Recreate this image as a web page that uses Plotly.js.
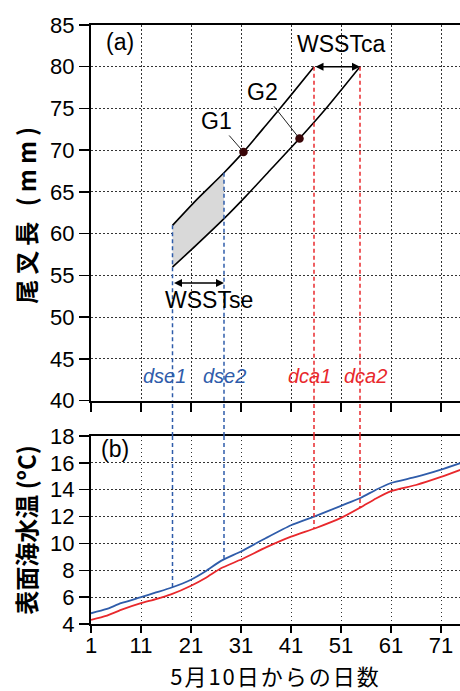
<!DOCTYPE html>
<html>
<head>
<meta charset="utf-8">
<script src="https://cdn.plot.ly/plotly-3.0.1.min.js"></script>
<style>
html,body{margin:0;padding:0;background:#fff;}
#chart{width:460px;height:691px;}
text.ytitle{letter-spacing:5px;}
text.x2title{letter-spacing:2px;}
</style>
</head>
<body>
<div id="chart"></div>
<script>
// ---- data ----
const xTicks = [1, 11, 21, 31, 41, 51, 61, 71];
const lenTicks = [40, 45, 50, 55, 60, 65, 70, 75, 80, 85];
const sstTicks = [4, 6, 8, 10, 12, 14, 16, 18];

// growth curves (fork length, mm)
const g1Days = [17.3, 22, 27.6, 31.5, 36, 41, 45.6];
const g1Len  = [61.0, 64.0, 67.3, 69.8, 73.0, 76.6, 80.0];
const g2Days = [17.3, 22, 27.6, 32, 36.8, 42.7, 48, 54.8];
const g2Len  = [56.0, 58.6, 61.8, 64.5, 67.6, 71.4, 75.0, 80.0];

// marked points G1, G2
const gNames = ['G1', 'G2'];
const gDays = [31.5, 42.7];
const gLen  = [69.8, 71.4];
const gLabelDays = [26.1, 35.3];
const gLabelLen  = [73.5, 77.0];

// sea surface temperature (deg C)
const sstDays = [1, 4, 7, 11, 14, 17, 21, 24, 27, 31, 36, 41, 46, 51, 55, 58, 61, 66, 71, 75];
const sstBlue = [4.8, 5.1, 5.55, 6.0, 6.35, 6.7, 7.3, 7.95, 8.7, 9.4, 10.4, 11.35, 12.05, 12.8, 13.4, 14.0, 14.5, 14.95, 15.5, 16.0];
const sstRed  = [4.3, 4.6, 5.05, 5.55, 5.85, 6.2, 6.85, 7.45, 8.15, 8.8, 9.7, 10.5, 11.15, 11.9, 12.7, 13.35, 13.9, 14.35, 14.95, 15.5];

// reference days
const dseNames = ['dse1', 'dse2'];
const dseDays = [17.3, 27.6];
const dseTop  = [61.0, 67.3];
const dseSST  = [6.7, 8.85];
const dseLabelDays = [15.6, 27.6];
const dcaNames = ['dca1', 'dca2'];
const dcaDays = [45.6, 54.8];
const dcaTop  = [80.0, 80.0];
const dcaSST  = [11.1, 12.7];
const dcaLabelDays = [44.6, 55.8];
const dLabelLen = 42.9;

const wsstSeLen = 54.1;
const wsstSeLabel = {day: 24.6, len: 52.1, text: 'WSSTse'};
const wsstCaLen = 80.0;
const wsstCaLabel = {day: 51.0, len: 82.7, text: 'WSSTca'};

// ---- styling ----
const BLUE = '#2f5caa';
const RED = '#e8282c';
const FONT = 'Liberation Sans, Arial, Noto Sans CJK JP, sans-serif';
const CJK = 'Noto Sans CJK JP, Liberation Sans, sans-serif';

const topDom = [0.3728, 1];
const botDom = [0, 0.3139];

// shaded band between curves from dse1 to dse2
const nUp = g1Days.filter(d => d <= dseDays[1]).length;
const nLo = g2Days.filter(d => d <= dseDays[1]).length;
const bandX = g1Days.slice(0, nUp).concat(g2Days.slice(0, nLo).reverse());
const bandY = g1Len.slice(0, nUp).concat(g2Len.slice(0, nLo).reverse());

const traces = [
  {x: bandX, y: bandY, xaxis: 'x', yaxis: 'y', type: 'scatter', mode: 'none',
   fill: 'toself', fillcolor: '#d9d9d9', hoverinfo: 'skip', showlegend: false},
  {x: g1Days, y: g1Len, xaxis: 'x', yaxis: 'y', type: 'scatter', mode: 'lines',
   line: {color: '#000', width: 1.6, shape: 'spline', smoothing: 0.6}, showlegend: false},
  {x: g2Days, y: g2Len, xaxis: 'x', yaxis: 'y', type: 'scatter', mode: 'lines',
   line: {color: '#000', width: 1.6, shape: 'spline', smoothing: 0.6}, showlegend: false},
  {x: gDays, y: gLen, xaxis: 'x', yaxis: 'y', type: 'scatter', mode: 'markers',
   marker: {color: '#3a0608', size: 8.5}, showlegend: false},
  {x: sstDays, y: sstBlue, xaxis: 'x2', yaxis: 'y2', type: 'scatter', mode: 'lines',
   line: {color: BLUE, width: 1.8, shape: 'spline', smoothing: 0.5}, showlegend: false},
  {x: sstDays, y: sstRed, xaxis: 'x2', yaxis: 'y2', type: 'scatter', mode: 'lines',
   line: {color: RED, width: 1.8, shape: 'spline', smoothing: 0.5}, showlegend: false}
];

const shapes = [];
function vline(day, top, sst, color) {
  const dash = '4px,3px';
  shapes.push({type: 'line', xref: 'x', yref: 'y', x0: day, x1: day, y0: top, y1: 40,
               line: {color: color, width: 1.5, dash: dash}});
  shapes.push({type: 'line', xref: 'x', yref: 'paper', x0: day, x1: day, y0: botDom[1], y1: topDom[0],
               line: {color: color, width: 1.5, dash: dash}});
  shapes.push({type: 'line', xref: 'x2', yref: 'y2', x0: day, x1: day, y0: 18, y1: sst,
               line: {color: color, width: 1.5, dash: dash}});
}
dseDays.forEach((d, i) => vline(d, dseTop[i], dseSST[i], BLUE));
dcaDays.forEach((d, i) => vline(d, dcaTop[i], dcaSST[i], RED));

const annotations = [];
// panel letters
annotations.push({xref: 'paper', yref: 'paper', x: 0.035, y: 0.997, xanchor: 'left', yanchor: 'top',
  text: '(a)', showarrow: false, font: {size: 23, family: FONT}});
annotations.push({xref: 'paper', yref: 'paper', x: 0.022, y: 0.318, xanchor: 'left', yanchor: 'top',
  text: '(b)', showarrow: false, font: {size: 23, family: FONT}});
// G labels with leaders
gNames.forEach((n, i) => annotations.push({
  xref: 'x', yref: 'y', x: gDays[i], y: gLen[i], axref: 'x', ayref: 'y',
  ax: gLabelDays[i], ay: gLabelLen[i], text: n, showarrow: true, arrowhead: 0,
  arrowwidth: 1, arrowcolor: '#222', standoff: 3, font: {size: 23, family: FONT}}));
// double arrows
annotations.push({xref: 'x', yref: 'y', x: dseDays[1], y: wsstSeLen, axref: 'x', ayref: 'y',
  ax: dseDays[0], ay: wsstSeLen, text: '', showarrow: true, arrowside: 'end+start',
  arrowhead: 2, startarrowhead: 2, arrowsize: 1, startarrowsize: 1, arrowwidth: 1.6, arrowcolor: '#000',
  standoff: 0, startstandoff: 0});
annotations.push({xref: 'x', yref: 'y', x: dcaDays[1], y: wsstCaLen, axref: 'x', ayref: 'y',
  ax: dcaDays[0], ay: wsstCaLen, text: '', showarrow: true, arrowside: 'end+start',
  arrowhead: 2, startarrowhead: 2, arrowsize: 1, startarrowsize: 1, arrowwidth: 1.6, arrowcolor: '#000',
  standoff: 0, startstandoff: 0});
[wsstSeLabel, wsstCaLabel].forEach(l => annotations.push({xref: 'x', yref: 'y', x: l.day, y: l.len,
  text: l.text, showarrow: false, font: {size: 23, family: FONT}}));
// d labels
dseNames.forEach((n, i) => annotations.push({xref: 'x', yref: 'y', x: dseLabelDays[i], y: dLabelLen,
  text: '<i>' + n + '</i>', showarrow: false, font: {size: 20, family: FONT, color: BLUE}}));
dcaNames.forEach((n, i) => annotations.push({xref: 'x', yref: 'y', x: dcaLabelDays[i], y: dLabelLen,
  text: '<i>' + n + '</i>', showarrow: false, font: {size: 20, family: FONT, color: RED}}));

const xRange = [1, 74.8];
const common = {
  showline: true, linecolor: '#000', linewidth: 2, ticks: 'outside', tickcolor: '#000', tickwidth: 1.5,
  showgrid: true, gridcolor: '#333', gridwidth: 1, griddash: '1.5px,2.5px', zeroline: false,
  tickfont: {size: 22, family: FONT, color: '#000'}
};

const layout = {
  width: 460, height: 691,
  margin: {l: 91, r: 0, t: 25, b: 67},
  paper_bgcolor: '#fff', plot_bgcolor: '#fff',
  font: {family: FONT, color: '#000'},
  showlegend: false,
  xaxis: Object.assign({}, common, {anchor: 'y', range: xRange, tickvals: xTicks, showticklabels: false,
    ticklen: 9, mirror: true}),
  yaxis: Object.assign({}, common, {anchor: 'x', domain: topDom, range: [40, 85], tickvals: lenTicks,
    ticklen: 10, title: {text: '尾叉長 (mm)', font: {size: 24, family: CJK, weight: 'bold'}, standoff: 7}}),
  xaxis2: Object.assign({}, common, {anchor: 'y2', range: xRange, tickvals: xTicks, ticklen: 7, mirror: true,
    ticklabelstandoff: -6,
    title: {text: '5月10日からの日数', font: {size: 22, family: CJK}, standoff: 16}}),
  yaxis2: Object.assign({}, common, {anchor: 'x2', domain: botDom, range: [4, 18], tickvals: sstTicks,
    ticklen: 10, title: {text: '表面海水温 (ºC)', font: {size: 24, family: CJK, weight: 'bold'}, standoff: 7}}),
  shapes: shapes,
  annotations: annotations
};

Plotly.newPlot('chart', traces, layout, {displayModeBar: false, staticPlot: true});
</script>
</body>
</html>
